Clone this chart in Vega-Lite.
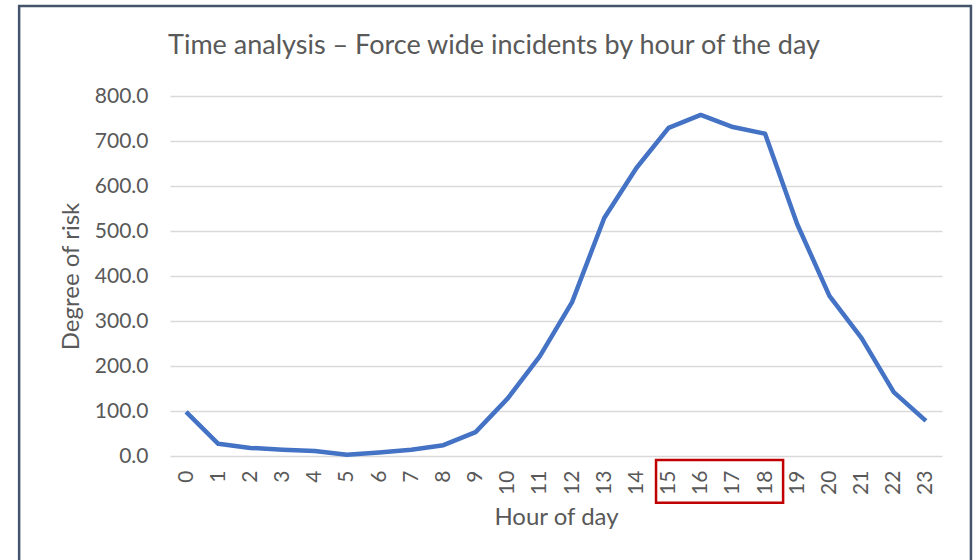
{
  "$schema": "https://vega.github.io/schema/vega-lite/v6.json",
  "width": 772,
  "height": 360,
  "autosize": {"type": "none"},
  "padding": {"left": 170, "top": 96, "right": 37, "bottom": 104},
  "background": "white",
  "title": {
    "text": "Time analysis – Force wide incidents by hour of the day",
    "font": "Lato",
    "fontSize": 27,
    "fontWeight": "normal",
    "color": "#595959",
    "anchor": "middle",
    "frame": "group",
    "baseline": "alphabetic",
    "dx": -62,
    "offset": -76
  },
  "config": {
    "view": {"stroke": null},
    "axis": {
      "labelFont": "Lato",
      "titleFont": "Lato",
      "labelColor": "#595959",
      "titleColor": "#595959",
      "labelFontSize": 21,
      "titleFontSize": 24,
      "titleFontWeight": "normal",
      "domain": false,
      "ticks": false,
      "labelOverlap": false
    }
  },
  "encoding": {
    "x": {
      "field": "hour",
      "type": "quantitative",
      "title": "Hour of day",
      "scale": {"domain": [-0.5, 23.5], "nice": false, "zero": false},
      "axis": {
        "values": [0,1,2,3,4,5,6,7,8,9,10,11,12,13,14,15,16,17,18,19,20,21,22,23],
        "labelAngle": -90,
        "labelPadding": 14,
        "grid": false,
        "titlePadding": 11,
        "labelFlush": false,
        "labelOverlap": false
      }
    },
    "y": {
      "field": "risk",
      "type": "quantitative",
      "title": "Degree of risk",
      "scale": {"domain": [0, 800], "nice": false},
      "axis": {
        "values": [0,100,200,300,400,500,600,700,800],
        "format": ".1f",
        "labelPadding": 22,
        "grid": true,
        "gridColor": "#d9d9d9",
        "gridWidth": 1.5,
        "titlePadding": 11
      }
    }
  },
  "layer": [
    {
      "data": {
        "values": [
          {"hour": 0, "risk": 98},
          {"hour": 1, "risk": 27},
          {"hour": 2, "risk": 18},
          {"hour": 3, "risk": 14},
          {"hour": 4, "risk": 11},
          {"hour": 5, "risk": 3},
          {"hour": 6, "risk": 8},
          {"hour": 7, "risk": 14},
          {"hour": 8, "risk": 24},
          {"hour": 9, "risk": 53},
          {"hour": 10, "risk": 128},
          {"hour": 11, "risk": 222},
          {"hour": 12, "risk": 342},
          {"hour": 13, "risk": 529},
          {"hour": 14, "risk": 640},
          {"hour": 15, "risk": 729},
          {"hour": 16, "risk": 758},
          {"hour": 17, "risk": 731},
          {"hour": 18, "risk": 716},
          {"hour": 19, "risk": 515},
          {"hour": 20, "risk": 356},
          {"hour": 21, "risk": 262},
          {"hour": 22, "risk": 142},
          {"hour": 23, "risk": 78}
        ]
      },
      "mark": {"type": "line", "color": "#4472c4", "strokeWidth": 4.5, "strokeJoin": "round"}
    },
    {
      "data": {"values": [{"hour": -5.19, "hour_end": 24.4, "risk": -300, "risk_end": 1000}]},
      "mark": {"type": "rect", "fill": null, "stroke": "#44546a", "strokeWidth": 2.5, "clip": false},
      "encoding": {
        "x2": {"field": "hour_end"},
        "y2": {"field": "risk_end"}
      }
    },
    {
      "data": {"values": [{"hour": 14.61, "hour_end": 18.56, "risk": -104, "risk_end": -9}]},
      "mark": {"type": "rect", "fill": null, "stroke": "#c00000", "strokeWidth": 2.5, "clip": false},
      "encoding": {
        "x2": {"field": "hour_end"},
        "y2": {"field": "risk_end"}
      }
    }
  ]
}
